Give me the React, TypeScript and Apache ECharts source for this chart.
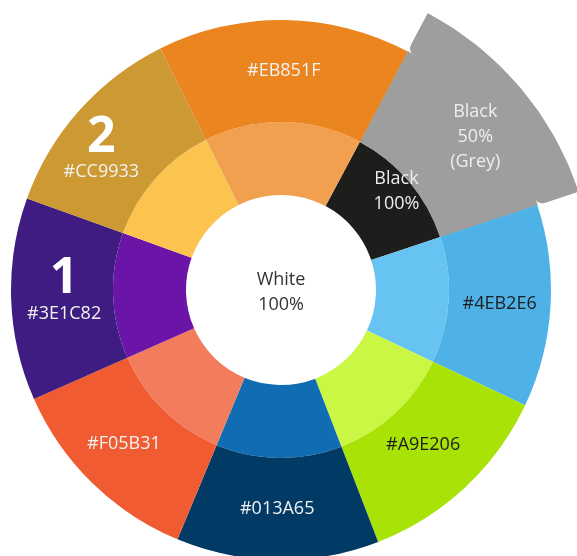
import React, { useEffect, useRef } from "react";
import * as echarts from "echarts";

const centerName = "White\n100%";
const segmentValues = [1, 1, 1, 1, 1, 1, 1, 1.25];
const innerNames = ["Black\n100%", "Light Blue", "Light Green", "Blue", "Coral", "Violet", "Yellow", "Light Orange"];
const innerColors = ["#1D1D1B", "#67C3F2", "#CAF744", "#106DB3", "#F27C5B", "#6A14A8", "#FCC44F", "#F1A050"];
const innerShowLabel = [true, false, false, false, false, false, false, false];
const outerNames = ["Black\n50%\n(Grey)", "#4EB2E6", "#A9E206", "#013A65", "#F05B31", "#3E1C82", "#CC9933", "#EB851F"];
const outerColors = ["#9E9E9E", "#4EB2E6", "#A9E206", "#013A65", "#F05B31", "#3E1C82", "#CC9933", "#EB851F"];
const outerLabelColors = ["#EEEEEE", "#1E1E1E", "#1E1E1E", "#F2F2F2", "#F2F2F2", "#F2F2F2", "#F2F2F2", "#F2F2F2"];
const outerBadges = ["", "", "", "", "", "1", "2", ""];
const extendedIndex = 0;

// label nudges (style only): [dx, dy] in px
const innerShift: number[][] = [[15, -16], [0, 0], [0, 0], [0, 0], [0, 0], [0, 0], [0, 0], [0, 0]];
const outerShift: number[][] = [[27, -14], [0, -1], [-7, -7], [-1, -2], [-4, -5], [2, -11], [-16, 1], [0, -2]];

function makeLabel(text: string, color: string, shift: number[], badge?: string) {
  const [dx, dy] = shift;
  let body = text
    .split("\n")
    .map((l) => `{t|${l}}`)
    .join("\n");
  if (badge) body = `{big|${badge}}\n` + body;
  const h = Math.abs(2 * dy);
  if (h > 0) body = dy < 0 ? body + "\n{sp| }" : "{sp| }\n" + body;
  return {
    formatter: body,
    padding: [0, Math.max(0, -2 * dx), 0, Math.max(0, 2 * dx)],
    rich: {
      t: { fontSize: 18, lineHeight: 25, color, fontFamily: "Open Sans" },
      big: { fontSize: 50, fontWeight: "bold", lineHeight: 50, color: "#FFFFFF", fontFamily: "Open Sans" },
      sp: { fontSize: 1, lineHeight: h, color: "rgba(0,0,0,0)" },
    },
  };
}

export default function App() {
  const ref = useRef<HTMLDivElement>(null);
  useEffect(() => {
    if (!ref.current) return;
    const chart = echarts.init(ref.current, null, { renderer: "svg" });

    const children = innerNames.map((name, i) => {
      const outerNode: any = {
        name: outerNames[i],
        value: segmentValues[i],
        itemStyle: { color: outerColors[i] },
        label: makeLabel(outerNames[i], outerLabelColors[i], outerShift[i], outerBadges[i]),
      };
      if (i === extendedIndex) {
        outerNode.itemStyle = { color: outerColors[i], borderWidth: 1, borderColor: outerColors[i] };
        outerNode.children = [
          {
            name: "",
            value: segmentValues[i],
            itemStyle: { color: outerColors[i], borderWidth: 1, borderColor: outerColors[i], borderRadius: [8, 8, 0, 0] },
            label: { show: false },
          },
        ];
      }
      const innerLabel: any = innerShowLabel[i]
        ? makeLabel(name, "#EEEEEE", innerShift[i])
        : { show: false };
      return {
        name,
        value: segmentValues[i],
        itemStyle: { color: innerColors[i] },
        label: innerLabel,
        children: [outerNode],
      };
    });

    chart.setOption({
      animation: false,
      series: [
        {
          type: "sunburst",
          center: [281, 290],
          startAngle: 62,
          sort: null,
          nodeClick: false,
          itemStyle: { borderWidth: 0 },
          label: {
            rotate: 0,
            fontFamily: "Open Sans",
            fontSize: 18,
            lineHeight: 25,
          },
          levels: [
            {},
            { r0: 0, r: 95, label: { color: "#333333" } },
            { r0: 95, r: 168 },
            { r0: 168, r: 270 },
            { r0: 270, r: 313 },
          ],
          data: [
            {
              name: centerName,
              itemStyle: { color: "#FFFFFF" },
              label: makeLabel(centerName, "#333333", [0, 0]),
              children,
            },
          ],
        },
      ],
    });
    return () => chart.dispose();
  }, []);
  return <div ref={ref} style={{ position: "fixed", left: 0, top: 0, width: 577, height: 556 }} />;
}
